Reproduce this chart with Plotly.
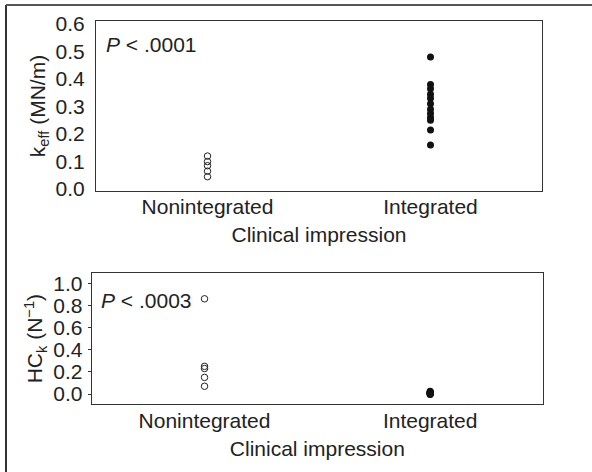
import plotly.graph_objects as go

categories = ["Nonintegrated", "Integrated"]

# Top panel: k_eff (MN/m)
keff_nonintegrated = [0.12, 0.10, 0.085, 0.065, 0.045]
keff_integrated = [0.48, 0.38, 0.365, 0.345, 0.33, 0.31, 0.29, 0.275, 0.26, 0.25, 0.215, 0.16]

# Bottom panel: HC_k (N^-1)
hck_nonintegrated = [0.86, 0.25, 0.23, 0.15, 0.07]
hck_integrated = [0.025, 0.02, 0.015, 0.012, 0.01, 0.008, 0.006, 0.004, 0.002, 0.0, 0.0, -0.005]

top_ticks = [0.0, 0.1, 0.2, 0.3, 0.4, 0.5, 0.6]
bottom_ticks = [0.0, 0.2, 0.4, 0.6, 0.8, 1.0]

FONT = "Liberation Sans"
FS = 21
TXT = "#222222"
W, H = 592, 472

fig = go.Figure()

open_marker = dict(symbol="circle-open", size=6.5, color="#222222", line=dict(width=1, color="#222222"))
filled_marker = dict(symbol="circle", size=7, color="#111111")

fig.add_trace(go.Scatter(x=[categories[0]] * len(keff_nonintegrated), y=keff_nonintegrated,
                         mode="markers", marker=open_marker, xaxis="x", yaxis="y", showlegend=False))
fig.add_trace(go.Scatter(x=[categories[1]] * len(keff_integrated), y=keff_integrated,
                         mode="markers", marker=filled_marker, xaxis="x", yaxis="y", showlegend=False))
fig.add_trace(go.Scatter(x=[categories[0]] * len(hck_nonintegrated), y=hck_nonintegrated,
                         mode="markers", marker=open_marker, xaxis="x2", yaxis="y2", showlegend=False))
fig.add_trace(go.Scatter(x=[categories[1]] * len(hck_integrated), y=hck_integrated,
                         mode="markers", marker=filled_marker, xaxis="x2", yaxis="y2", showlegend=False))

font = dict(family=FONT, size=FS, color=TXT)
axis_common = dict(showline=True, linecolor="#333333", linewidth=1, mirror=True,
                   showgrid=False, zeroline=False, automargin=False, tickfont=font)

fig.update_layout(
    width=W, height=H,
    margin=dict(l=0, r=0, t=0, b=0),
    paper_bgcolor="white", plot_bgcolor="white",
    font=font,
    xaxis=dict(**axis_common, domain=[96 / W, 542 / W], anchor="y",
               type="category", categoryorder="array", categoryarray=categories,
               range=[-0.5, 1.5], ticks="", ticklabelstandoff=-3,
               title=dict(text="Clinical impression", standoff=10, font=font)),
    yaxis=dict(**axis_common, domain=[1 - 191 / H, 1 - 21 / H], anchor="x",
               range=[-0.007, 0.611], tickvals=top_ticks,
               ticktext=[f"{v:.1f}" for v in top_ticks], ticks="", ticklabelstandoff=6,
               title=dict(text="k<sub>eff</sub> (MN/m)", standoff=4, font=font)),
    xaxis2=dict(**axis_common, domain=[91.7 / W, 543 / W], anchor="y2",
                type="category", categoryorder="array", categoryarray=categories,
                range=[-0.5, 1.5], ticks="", ticklabelstandoff=-3,
                title=dict(text="Clinical impression", standoff=10, font=font)),
    yaxis2=dict(**axis_common, domain=[1 - 404.3 / H, 1 - 273 / H], anchor="x2",
                range=[-0.093, 1.093], tickvals=bottom_ticks,
                ticktext=[f"{v:.1f}" for v in bottom_ticks],
                ticks="outside", ticklen=3, tickcolor="#333333", ticklabelstandoff=1,
                title=dict(text="HC<sub>k</sub> (N<sup>−1</sup>)", standoff=4, font=font)),
    annotations=[
        dict(text="<i>P</i> < .0001", xref="paper", yref="paper",
             x=104 / W, y=1 - 45 / H, xanchor="left", yanchor="middle",
             showarrow=False, font=font),
        dict(text="<i>P</i> < .0003", xref="paper", yref="paper",
             x=99 / W, y=1 - 300 / H, xanchor="left", yanchor="middle",
             showarrow=False, font=font),
    ],
    shapes=[
        dict(type="line", xref="paper", yref="paper", x0=6 / W, x1=6 / W, y0=0, y1=1 - 5 / H,
             line=dict(color="#333333", width=2)),
        dict(type="line", xref="paper", yref="paper", x0=6 / W, x1=1, y0=1 - 5 / H, y1=1 - 5 / H,
             line=dict(color="#555555", width=2)),
    ],
)

fig.write_html("out.html", config={"displayModeBar": False},
               post_script="document.body.style.margin='0';document.body.style.overflow='hidden';")
